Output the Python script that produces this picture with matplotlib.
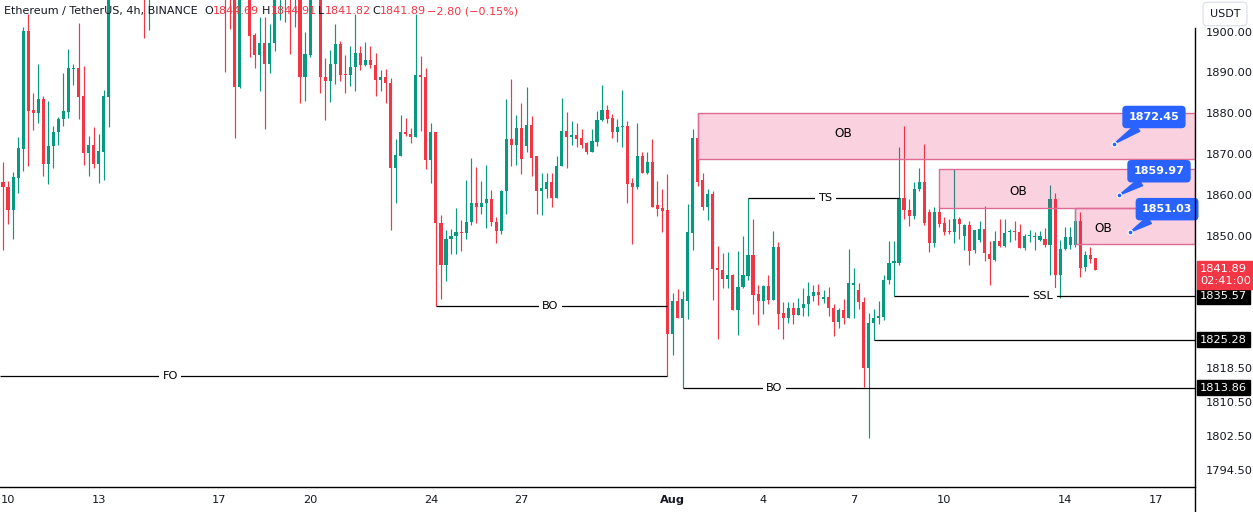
import numpy as np
import pandas as pd
import matplotlib
matplotlib.use("Agg")
import matplotlib.pyplot as plt
import matplotlib.dates as mdates
import matplotlib.transforms as mtransforms
from matplotlib.patches import Rectangle
from matplotlib.lines import Line2D
from matplotlib.ticker import FixedLocator, NullLocator, FixedFormatter

# === data: ETH/USDT 4h candles ===
opens = [1863.2, 1861.9, 1856.3, 1864.1, 1871.2, 1900.2, 1880.7, 1880.0, 1883.4, 1867.6,
         1871.9, 1875.4, 1878.5, 1880.2, 1890.8, 1891.0, 1884.1, 1870.2, 1872.2, 1867.6,
         1870.5, 1883.9, 1925, 1965, 1990, 2005, 1985, 1960, 1935, 1918,
         1932, 1940, 1935, 1930, 1937, 1932, 1926, 1930, 1924, 1920,
         1926, 1922, 1918, 1921, 1916, 1911, 1908.5, 1886.4, 1912, 1915,
         1899.3, 1894.2, 1897.2, 1892.0, 1897.2, 1910, 1913, 1916, 1910, 1914,
         1888.9, 1894.4, 1910, 1913, 1888.9, 1888.0, 1892.0, 1897.1, 1889.5, 1889.3,
         1891.4, 1894.8, 1891.8, 1893.2, 1891.8, 1888.1, 1888.9, 1887.5, 1866.6, 1869.6,
         1875.3, 1875.0, 1874.2, 1889.5, 1889.0, 1868.6, 1875.3, 1853.3, 1843.0, 1849.3,
         1850.1, 1851.0, 1850.9, 1853.6, 1858.2, 1857.1, 1858.0, 1859.0, 1853.4, 1851.3,
         1861.0, 1873.7, 1872.2, 1876.3, 1872.0, 1877.1, 1869.4, 1861.0, 1861.6, 1863.2,
         1859.3, 1867.2, 1875.7, 1874.2, 1874.6, 1873.9, 1872.7, 1870.6, 1873.0, 1878.3,
         1880.7, 1878.8, 1875.4, 1876.5, 1876.9, 1862.9, 1861.9, 1869.4, 1865.4, 1868.1,
         1857.6, 1856.9, 1856.3, 1826.6, 1834.5, 1830.5, 1834.6, 1850.9, 1873.9, 1863.6,
         1857.1, 1860.2, 1842.5, 1841.9, 1839.8, 1840.8, 1832.3, 1837.8, 1840.4, 1845.6,
         1836.1, 1834.5, 1838.0, 1834.7, 1847.4, 1831.5, 1830.3, 1832.7, 1831.1, 1832.9,
         1833.8, 1835.6, 1836.7, 1835.0, 1835.4, 1832.7, 1829.5, 1832.3, 1830.4, 1838.4,
         1837.1, 1834.3, 1818.4, 1829.2, 1830.4, 1830.6, 1839.4, 1843.6, 1843.6, 1859.2,
         1856.4, 1854.9, 1861.4, 1863.1, 1855.8, 1848.3, 1855.8, 1853.3, 1851.2, 1851.0,
         1854.1, 1850.0, 1852.7, 1846.7, 1849.1, 1851.7, 1845.8, 1844.4, 1849.0, 1847.7,
         1851.0, 1851.2, 1851.0, 1847.3, 1850.0, 1849.9, 1849.1, 1849.3, 1847.9, 1859.0,
         1840.6, 1846.9, 1847.9, 1847.9, 1853.7, 1842.6, 1845.6, 1844.69]
highs = [1868.0, 1863.4, 1865.6, 1874.1, 1901.2, 1904.6, 1884.9, 1892.2, 1884.1, 1882.9,
         1876.8, 1879.0, 1889.8, 1895.8, 1892.2, 1902.2, 1891.7, 1874.4, 1876.6, 1874.9,
         1885.6, 1932.0, 1975, 2010, 2025, 2012, 1992, 1965, 1940, 1938,
         1948, 1945, 1940, 1942, 1940, 1936, 1934, 1933, 1927, 1930,
         1929, 1925, 1924, 1924, 1919, 1914, 1911, 1915, 1920, 1917,
         1899.8, 1903.7, 1903.7, 1902.1, 1913, 1916, 1920, 1918, 1919, 1916,
         1900.1, 1912, 1917, 1915, 1893.6, 1895.6, 1901.9, 1897.8, 1894.4, 1896.6,
         1904.6, 1896.5, 1897.5, 1896.6, 1894.8, 1890.7, 1890.9, 1888.7, 1873.7, 1879.5,
         1878.7, 1876.3, 1904.6, 1894.0, 1891.1, 1877.7, 1875.3, 1855.1, 1851.5, 1851.9,
         1856.8, 1853.9, 1863.6, 1869.0, 1866.9, 1863.4, 1867.3, 1861.2, 1854.7, 1861.3,
         1883.4, 1888.3, 1879.5, 1882.4, 1886.4, 1879.3, 1869.6, 1865.3, 1865.3, 1865.3,
         1869.4, 1883.7, 1880.2, 1878.1, 1877.5, 1876.1, 1873.0, 1876.1, 1880.6, 1886.9,
         1881.9, 1879.8, 1878.5, 1885.6, 1878.1, 1864.1, 1877.7, 1870.6, 1870.4, 1873.7,
         1863.5, 1861.5, 1865.1, 1836.5, 1837.4, 1836.8, 1857.8, 1876.1, 1880.0, 1865.3,
         1861.5, 1861.0, 1847.7, 1846.0, 1846.3, 1841.0, 1846.5, 1850.1, 1859.4, 1854.1,
         1838.4, 1838.4, 1840.6, 1851.3, 1848.7, 1834.3, 1834.2, 1834.2, 1835.3, 1837.6,
         1839.1, 1838.3, 1838.6, 1837.0, 1837.9, 1833.8, 1832.9, 1834.9, 1847.0, 1842.5,
         1838.8, 1835.5, 1831.5, 1832.6, 1834.5, 1840.6, 1849.0, 1849.0, 1871.8, 1876.9,
         1859.0, 1863.2, 1866.5, 1872.4, 1856.6, 1857.0, 1857.4, 1854.6, 1854.1, 1866.3,
         1854.6, 1852.9, 1853.7, 1851.5, 1853.7, 1857.4, 1849.0, 1851.3, 1854.1, 1854.1,
         1851.7, 1853.7, 1852.9, 1850.5, 1851.5, 1851.0, 1851.3, 1852.1, 1862.4, 1860.5,
         1849.1, 1852.4, 1852.4, 1856.8, 1855.9, 1846.5, 1847.4, 1844.91]
lows = [1846.7, 1852.9, 1849.4, 1860.5, 1865.8, 1867.1, 1875.9, 1877.6, 1864.6, 1862.7,
        1866.6, 1872.2, 1876.8, 1878.8, 1886.8, 1878.5, 1867.3, 1864.6, 1866.6, 1862.9,
        1863.7, 1876.6, 1920, 1958, 1980, 1975, 1950, 1925, 1898.6, 1900.5,
        1926, 1930, 1925, 1926, 1928, 1921, 1920, 1918, 1914, 1916,
        1917, 1913, 1912, 1911, 1890.0, 1900.7, 1873.8, 1886.1, 1909, 1893.9,
        1891.0, 1885.4, 1876.1, 1889.8, 1895.4, 1903, 1902.5, 1894.5, 1901.3, 1882.4,
        1883.0, 1893.8, 1908.5, 1884.9, 1878.4, 1882.7, 1887.1, 1887.9, 1884.9, 1886.7,
        1885.4, 1890.6, 1891.5, 1891.1, 1884.2, 1885.4, 1882.6, 1851.5, 1858.2, 1869.6,
        1874.3, 1872.6, 1874.2, 1875.7, 1866.3, 1862.9, 1833.3, 1835.0, 1839.2, 1845.7,
        1845.7, 1846.6, 1849.4, 1852.7, 1853.2, 1855.4, 1852.1, 1852.5, 1848.5, 1850.5,
        1855.4, 1867.2, 1867.4, 1865.1, 1870.4, 1864.6, 1855.4, 1855.2, 1859.4, 1857.0,
        1859.3, 1867.2, 1866.6, 1872.2, 1871.6, 1871.5, 1870.0, 1870.4, 1871.9, 1878.1,
        1877.6, 1873.9, 1872.9, 1871.8, 1858.2, 1848.2, 1861.4, 1865.4, 1865.1, 1857.2,
        1854.9, 1851.1, 1816.6, 1821.6, 1830.3, 1813.86, 1830.1, 1846.8, 1862.2, 1856.3,
        1853.9, 1834.7, 1825.4, 1837.7, 1837.7, 1832.3, 1826.3, 1837.7, 1839.6, 1831.3,
        1828.8, 1831.3, 1833.7, 1834.7, 1827.8, 1825.4, 1829.2, 1828.9, 1831.1, 1830.9,
        1830.9, 1834.5, 1833.5, 1833.9, 1830.9, 1826.2, 1828.0, 1828.9, 1830.4, 1830.5,
        1832.5, 1814.1, 1802.1, 1825.28, 1829.0, 1830.0, 1838.5, 1835.57, 1843.2, 1854.1,
        1852.5, 1854.1, 1861.0, 1852.7, 1846.3, 1847.5, 1852.2, 1850.3, 1850.5, 1848.3,
        1849.5, 1846.7, 1843.0, 1846.0, 1848.6, 1844.0, 1838.3, 1844.2, 1847.5, 1847.5,
        1848.7, 1849.1, 1847.1, 1846.7, 1848.7, 1846.7, 1849.0, 1847.5, 1840.6, 1834.7,
        1835.3, 1846.7, 1846.9, 1847.5, 1840.3, 1841.6, 1843.6, 1841.82]
closes = [1861.9, 1856.3, 1864.4, 1871.5, 1900.2, 1880.5, 1880.0, 1883.4, 1867.6, 1871.9,
          1875.4, 1878.5, 1880.5, 1891.0, 1891.2, 1883.9, 1870.2, 1872.2, 1867.6, 1870.7,
          1884.1, 1925.0, 1965, 1990, 2005, 1985, 1960, 1935, 1918, 1932,
          1940, 1935, 1930, 1937, 1932, 1926, 1930, 1924, 1920, 1926,
          1922, 1918, 1921, 1916, 1911, 1908.5, 1886.4, 1912, 1915, 1899.1,
          1894.2, 1897.2, 1892.0, 1897.2, 1910, 1913, 1916, 1910, 1914, 1888.9,
          1894.5, 1910, 1913, 1888.9, 1888.0, 1892.0, 1897.1, 1889.3, 1889.3, 1891.4,
          1894.8, 1891.8, 1893.2, 1891.8, 1888.1, 1888.9, 1887.3, 1866.6, 1869.8, 1875.3,
          1874.9, 1874.2, 1889.5, 1889.0, 1868.6, 1875.3, 1853.3, 1843.0, 1849.3, 1850.1,
          1851.0, 1850.9, 1853.6, 1858.2, 1857.1, 1858.0, 1859.0, 1853.4, 1851.3, 1861.0,
          1873.7, 1872.2, 1876.3, 1868.8, 1877.1, 1869.0, 1861.0, 1861.7, 1863.2, 1859.3,
          1867.1, 1875.7, 1874.2, 1874.6, 1873.7, 1872.3, 1870.6, 1873.2, 1878.3, 1880.7,
          1878.5, 1875.4, 1876.7, 1876.9, 1862.7, 1862.0, 1869.4, 1865.4, 1868.0, 1857.2,
          1856.6, 1856.2, 1826.6, 1834.5, 1830.5, 1834.9, 1851.0, 1873.9, 1863.3, 1857.1,
          1860.2, 1842.2, 1841.8, 1839.8, 1840.8, 1832.3, 1837.8, 1840.6, 1845.6, 1835.9,
          1834.5, 1838.0, 1834.7, 1847.4, 1831.3, 1830.3, 1832.7, 1831.1, 1832.9, 1833.8,
          1835.6, 1836.7, 1835.8, 1835.4, 1832.7, 1829.5, 1832.3, 1830.4, 1838.8, 1838.9,
          1834.3, 1818.4, 1829.3, 1830.3, 1830.8, 1839.4, 1843.6, 1844.0, 1859.4, 1856.3,
          1854.9, 1861.4, 1863.1, 1853.3, 1848.5, 1855.8, 1853.1, 1851.0, 1851.0, 1854.1,
          1852.9, 1852.7, 1846.6, 1851.5, 1851.9, 1846.0, 1844.5, 1849.0, 1847.7, 1850.9,
          1851.2, 1851.0, 1847.3, 1850.2, 1850.2, 1850.1, 1850.1, 1847.9, 1859.0, 1840.6,
          1846.9, 1849.9, 1849.9, 1853.7, 1842.4, 1845.6, 1844.6, 1841.89]
first_candle = "2023-07-09 20:00"

# drawings (start candle index, price)
ob_start = [138, 186, 213]
ob_top = [1880.0, 1866.3, 1856.8]
ob_bottom = [1868.8, 1856.8, 1848.2]
callout_values = [1872.45, 1859.97, 1851.03]

day_ticks = ["2023-07-10", "2023-07-13", "2023-07-17", "2023-07-20", "2023-07-24", "2023-07-27",
             "2023-08-01", "2023-08-04", "2023-08-07", "2023-08-10", "2023-08-14", "2023-08-17"]
day_labels = ["10", "13", "17", "20", "24", "27", "Aug", "4", "7", "10", "14", "17"]
price_ticks = [1900, 1890, 1880, 1870, 1860, 1850, 1818.5, 1810.5, 1802.5, 1794.5]

GREEN = "#089981"
RED = "#f23645"
TXT = "#131722"
BLUE = "#2962ff"
plt.rcParams["font.family"] = ["DejaVu Sans"]

o = np.array(opens); h = np.array(highs); l = np.array(lows); c = np.array(closes)
dates = pd.date_range(first_candle, periods=len(o), freq="4h")
x = mdates.date2num(dates)
step = 1 / 6


def xi(i):
    return x[0] + i * step


W, H = 1253, 512
fig = plt.figure(figsize=(W / 100, H / 100), dpi=100)
fig.patch.set_facecolor("white")
ax = fig.add_axes([0, 25 / H, 1195 / W, 487 / H])
ax.set_yscale("log")
ax.set_ylim(1790.5, 1907.96)
ax.set_xlim(xi(-0.6), xi(236.8))

cols = np.where(c >= o, GREEN, RED)
ax.vlines(x, l, h, colors=cols, lw=0.85, zorder=2)
ax.bar(x, np.maximum(np.abs(c - o), 0.25), bottom=np.minimum(o, c), width=step * 0.62,
       color=cols, lw=0, zorder=3)

# order blocks
for s, t, b in zip(ob_start, ob_top, ob_bottom):
    ax.add_patch(Rectangle((xi(s), b), xi(236.8) - xi(s), t - b, facecolor=(0.914, 0.118, 0.388, 0.2),
                           edgecolor="#dd6b95", lw=1, zorder=4))
ax.text(xi(166.9), 1875.0, "OB", ha="center", va="center", fontsize=8.7, color="black", zorder=6)
ax.text(xi(201.7), 1861.0, "OB", ha="center", va="center", fontsize=8.7, color="black", zorder=6)
ax.text(xi(218.6), 1851.9, "OB", ha="center", va="center", fontsize=8.7, color="black", zorder=6)

# structure lines
lab = dict(ha="center", va="center", fontsize=8.2, color="black", zorder=6,
           bbox=dict(boxstyle="square,pad=0.3", fc="white", ec="none"))
right = xi(236.8)
ax.hlines(lows[132], xi(-0.6), xi(132), color="black", lw=0.9, zorder=5)
ax.text(xi(33.2), lows[132], "FO", **lab)
ax.hlines(lows[86], xi(86), xi(132), color="black", lw=0.9, zorder=5)
ax.text(xi(108.7), lows[86], "BO", **lab)
ax.hlines(lows[135], xi(135), right, color="black", lw=0.9, zorder=5)
ax.text(xi(153.2), lows[135], "BO", **lab)
ax.hlines(closes[178], xi(148), xi(178), color="black", lw=0.9, zorder=5)
ax.text(xi(163.3), closes[178], "TS", **lab)
ax.hlines(lows[177], xi(177), right, color="black", lw=0.9, zorder=5)
ax.text(xi(206.6), lows[177], "SSL", **lab)
ax.hlines(lows[173], xi(173), right, color="black", lw=0.9, zorder=5)

# callouts
for v, i, off in zip(callout_values, [220.7, 221.7, 223.9], [(40, 27), (40, 24), (37, 23)]):
    ax.annotate(f"{v:.2f}", xy=(xi(i), v), xytext=off, textcoords="offset pixels",
                ha="center", va="center", fontsize=8, fontweight="bold", color="white", zorder=8,
                bbox=dict(boxstyle="round,pad=0.5,rounding_size=0.3", fc=BLUE, ec=BLUE),
                arrowprops=dict(arrowstyle="wedge,tail_width=0.7", fc=BLUE, ec=BLUE, shrinkA=0, shrinkB=0))
    ax.plot(xi(i), v, "o", ms=3.5, mfc=BLUE, mec="white", mew=0.8, zorder=9)

# axes styling
for s in ["top", "left", "right"]:
    ax.spines[s].set_visible(False)
ax.spines["bottom"].set_color("black")
ax.spines["bottom"].set_linewidth(1)
ax.yaxis.tick_right()
ax.yaxis.set_major_locator(FixedLocator(price_ticks))
ax.yaxis.set_major_formatter(FixedFormatter([f"{p:.2f}" for p in price_ticks]))
ax.yaxis.set_minor_locator(NullLocator())
ax.tick_params(axis="y", length=0, pad=7.5, labelsize=8.2, labelcolor=TXT)
ax.set_xticks(mdates.date2num(pd.to_datetime(day_ticks)))
ax.set_xticklabels(day_labels)
ax.tick_params(axis="x", length=0, pad=6, labelsize=8.2, labelcolor=TXT)
for t in ax.get_xticklabels():
    if t.get_text() == "Aug":
        t.set_fontweight("bold")

fig.add_artist(Line2D([1195 / W, 1195 / W], [0, 1 - 28 / H], color="black", lw=1))

# price labels on the axis
ytr = ax.get_yaxis_transform()
for v in [lows[177], lows[173], lows[135]]:
    ax.text(1 + 5 / 1195, v, f"{v:.2f}", transform=ytr, ha="left", va="center", fontsize=8.2,
            color="white", clip_on=False, zorder=10,
            bbox=dict(boxstyle="square,pad=0.25", fc="black", ec="black"))
ytr_up = mtransforms.offset_copy(ytr, fig=fig, x=0, y=6, units="dots")
ax.text(1 + 5 / 1195, closes[-1], f"{closes[-1]:.2f}\n02:41:00", transform=ytr_up, ha="left", va="top",
        fontsize=8.2, color="white", clip_on=False, zorder=11, linespacing=1.2,
        bbox=dict(boxstyle="square,pad=0.28", fc=RED, ec=RED))

fig.text(1225 / W, 1 - 14 / H, "USDT", ha="center", va="center", fontsize=8, color=TXT,
         bbox=dict(boxstyle="round,pad=0.6,rounding_size=0.35", fc="white", ec="#e0e3eb"))

# legend line
ty = 1 - 11 / H
fig.text(4 / W, ty, "Ethereum / TetherUS, 4h, BINANCE", ha="left", va="center", fontsize=8, color=TXT)
parts = [(204, "O", TXT), (213, f"{opens[-1]:.2f}", RED), (262, "H", TXT), (271, f"{highs[-1]:.2f}", RED),
         (318, "L", TXT), (325, f"{lows[-1]:.2f}", RED), (372, "C", TXT), (380, f"{closes[-1]:.2f}", RED),
         (427, "\u22122.80 (\u22120.15%)", RED)]
for px, s, col in parts:
    fig.text(px / W, ty, s, ha="left", va="center", fontsize=8, color=col)

fig.savefig("out.png", dpi=100)
